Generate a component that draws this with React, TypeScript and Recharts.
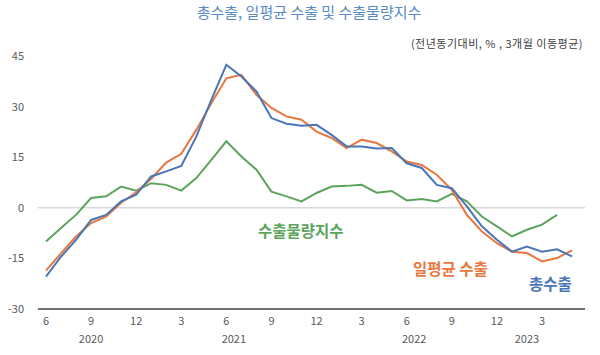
import React from 'react';
import { LineChart, Line, XAxis, YAxis, ReferenceLine } from 'recharts';

const categories = [
  '2020-06','2020-07','2020-08','2020-09','2020-10','2020-11','2020-12',
  '2021-01','2021-02','2021-03','2021-04','2021-05','2021-06','2021-07','2021-08','2021-09','2021-10','2021-11','2021-12',
  '2022-01','2022-02','2022-03','2022-04','2022-05','2022-06','2022-07','2022-08','2022-09','2022-10','2022-11','2022-12',
  '2023-01','2023-02','2023-03','2023-04','2023-05',
];

const totalExports = [
  -20.4, -14.5, -9.5, -3.6, -2.1, 1.9, 3.9,
  9.3, 10.8, 12.4, 21.1, 32.0, 42.4, 38.9, 34.5, 26.6, 24.9, 24.3, 24.6,
  21.6, 18.2, 18.2, 17.6, 17.7, 13.2, 11.8, 6.8, 5.8, 0.4, -5.5, -9.5,
  -13.0, -11.5, -13.0, -12.3, -14.4,
];

const dailyExports = [
  -18.6, -13.5, -8.5, -4.5, -2.6, 1.5, 4.6,
  8.6, 13.4, 16.0, 23.1, 31.0, 38.4, 39.4, 33.5, 29.6, 27.1, 26.1, 22.6,
  20.7, 17.7, 20.2, 19.2, 16.7, 13.7, 12.7, 9.8, 5.3, -2.1, -7.0, -10.5,
  -13.0, -13.4, -15.9, -14.9, -12.6,
];

const volumeIndex: (number | null)[] = [
  -10.0, -6.0, -2.1, 2.9, 3.4, 6.3, 5.1,
  7.3, 6.8, 5.1, 8.8, 14.2, 19.7, 15.2, 11.3, 4.8, 3.4, 1.9, 4.4,
  6.3, 6.5, 6.8, 4.5, 5.0, 2.2, 2.6, 1.9, 4.1, 1.9, -2.6, -5.5,
  -8.5, -6.5, -5.0, -2.1, null,
];

const monthTicks = [0, 3, 6, 9, 12, 15, 18, 21, 24, 27, 30, 33];
const monthTickLabels = ['6', '9', '12', '3', '6', '9', '12', '3', '6', '9', '12', '3'];
const yearTicks = [3, 12.5, 24.5, 32];
const yearTickLabels = ['2020', '2021', '2022', '2023'];
const yTicks = [-30, -15, 0, 15, 30, 45];

const data = categories.map((c, i) => ({
  i,
  cat: c,
  total: totalExports[i],
  daily: dailyExports[i],
  volume: volumeIndex[i],
}));

const FONT = '"Noto Sans CJK KR", "Noto Sans", sans-serif';
const BLUE = '#4a76b8';
const ORANGE = '#e8773f';
const GREEN = '#5ca45c';

const monthLabel = (v: number) => {
  const k = monthTicks.indexOf(v);
  return k >= 0 ? monthTickLabels[k] : '';
};
const yearLabel = (v: number) => {
  const k = yearTicks.indexOf(v);
  return k >= 0 ? yearTickLabels[k] : '';
};

export default function App() {
  return (
    <div style={{ position: 'absolute', left: 0, top: 0, width: 600, height: 355, background: '#fff', fontFamily: FONT }}>
      <LineChart
        width={600}
        height={355}
        data={data}
        margin={{ top: 56, right: 15, bottom: 0, left: 8 }}
      >
        <XAxis
          dataKey="i"
          type="number"
          domain={[-0.53, 35.86]}
          ticks={monthTicks}
          tickFormatter={monthLabel}
          height={22}
          tickSize={0}
          tickMargin={8}
          axisLine={{ stroke: '#404040', strokeWidth: 1.5 }}
          tickLine={false}
          tick={{ fill: '#595959', fontSize: 11, fontFamily: FONT }}
          allowDataOverflow
          interval={0}
        />
        <XAxis
          xAxisId="year"
          dataKey="i"
          type="number"
          domain={[-0.53, 35.86]}
          ticks={yearTicks}
          tickFormatter={yearLabel}
          height={24}
          tickSize={0}
          tickMargin={4}
          axisLine={false}
          tickLine={false}
          tick={{ fill: '#595959', fontSize: 11, fontFamily: FONT }}
          allowDataOverflow
          interval={0}
        />
        <YAxis
          domain={[-30, 45]}
          ticks={yTicks}
          width={30}
          tickSize={0}
          tickMargin={14}
          axisLine={false}
          tickLine={false}
          tick={{ fill: '#595959', fontSize: 11, fontFamily: FONT }}
          interval={0}
        />
        <ReferenceLine y={0} stroke="#d9d9d9" strokeWidth={1.5} />
        <Line dataKey="volume" stroke={GREEN} strokeWidth={2} dot={false} isAnimationActive={false} connectNulls={false} />
        <Line dataKey="daily" stroke={ORANGE} strokeWidth={2} dot={false} isAnimationActive={false} />
        <Line dataKey="total" stroke={BLUE} strokeWidth={2} dot={false} isAnimationActive={false} />
      </LineChart>
      <div style={{ position: 'absolute', left: 0, width: 600, top: 2, textAlign: 'center', paddingLeft: 18, boxSizing: 'border-box', fontSize: 15, color: '#5a8ac6', whiteSpace: 'nowrap', lineHeight: '20px' }}>
        총수출, 일평균 수출 및 수출물량지수
      </div>
      <div style={{ position: 'absolute', right: 17, top: 35, fontSize: 11, letterSpacing: 0.5, color: '#404040', whiteSpace: 'nowrap', lineHeight: '16px' }}>
        (전년동기대비, % , 3개월 이동평균)
      </div>
      <div style={{ position: 'absolute', left: 258, top: 220, fontSize: 15.5, fontWeight: 700, color: GREEN, whiteSpace: 'nowrap', lineHeight: '20px' }}>
        수출물량지수
      </div>
      <div style={{ position: 'absolute', left: 413, top: 258, fontSize: 15.5, fontWeight: 700, color: ORANGE, whiteSpace: 'nowrap', lineHeight: '20px' }}>
        일평균 수출
      </div>
      <div style={{ position: 'absolute', left: 529, top: 273, fontSize: 15.5, fontWeight: 700, color: BLUE, whiteSpace: 'nowrap', lineHeight: '20px' }}>
        총수출
      </div>
    </div>
  );
}
